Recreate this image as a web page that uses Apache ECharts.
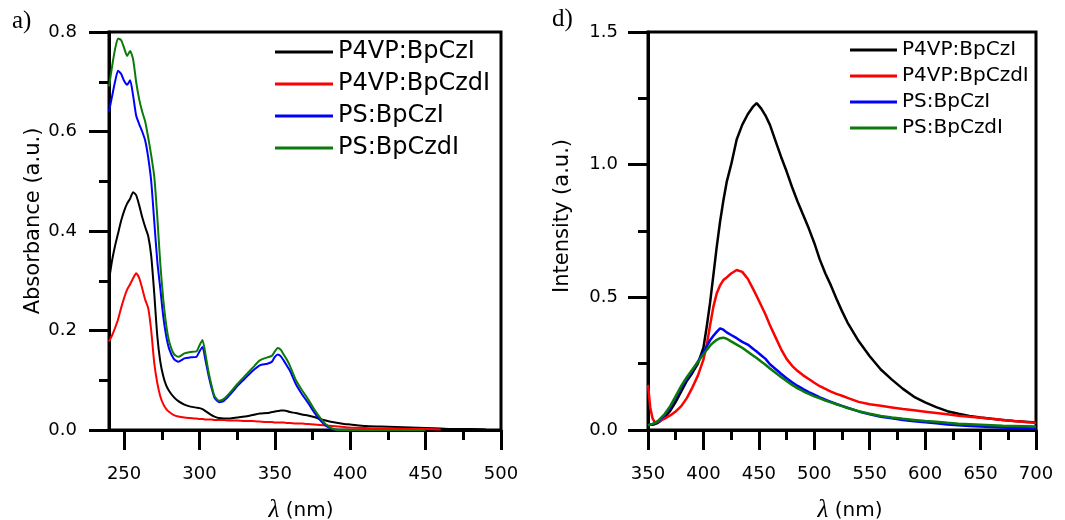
<!DOCTYPE html>
<html>
<head>
<meta charset="utf-8">
<script src="https://cdn.jsdelivr.net/npm/echarts@6/dist/echarts.min.js"></script>
<style>
  html, body { margin: 0; padding: 0; background: #ffffff; }
  #chart { width: 1065px; height: 520px; }
</style>
</head>
<body>
<div id="chart"></div>
<script>
// Sample names and line colours (same order in both panels)
const sampleNames = ['P4VP:BpCzI', 'P4VP:BpCzdI', 'PS:BpCzI', 'PS:BpCzdI'];
const sampleColors = ['#000000', '#ff0000', '#0000ff', '#0a7a0a'];

// ---- Panel a): absorbance spectra ----
const absWl = [240,242,244,246,248,250,252,254,256,258,260,262,264,266,268,270,272,274,276,278,280,
  283,286,290,294,298,300,302,304,306,308,310,313,316,320,325,330,335,340,345,
  348,350,352,354,356,358,360,364,368,372,376,380,384,388,392,396,400,
  410,420,430,440,450,460,470,480,490];

const absP4vpBpCzI = [0.300,0.340,0.370,0.395,0.420,0.440,0.455,0.465,0.478,0.472,0.452,0.428,0.408,0.390,0.350,0.275,0.190,0.138,0.108,0.089,0.078,
  0.066,0.058,0.051,0.047,0.045,0.044,0.042,0.038,0.034,0.030,0.027,0.024,0.023,0.023,0.025,0.027,0.030,0.033,0.034,
  0.036,0.037,0.038,0.039,0.039,0.038,0.036,0.034,0.031,0.029,0.026,0.022,0.019,0.016,0.014,0.012,0.011,
  0.008,0.007,0.006,0.005,0.004,0.003,0.002,0.002,0.001];

const absP4vpBpCzdI = [0.178,0.190,0.205,0.222,0.245,0.265,0.282,0.293,0.305,0.315,0.306,0.285,0.262,0.245,0.200,0.135,0.095,0.068,0.052,0.042,0.036,
  0.030,0.027,0.025,0.024,0.023,0.022,0.022,0.021,0.021,0.021,0.020,0.020,0.020,0.019,0.019,0.018,0.018,0.017,0.016,
  0.016,0.015,0.015,0.015,0.015,0.014,0.014,0.013,0.013,0.012,0.011,0.010,0.009,0.008,0.007,0.006,0.005,
  0.004,0.003,0.003,0.002,0.002,0.001,null,null,null];

const absPsBpCzI = [0.640,0.670,0.700,0.722,0.716,0.702,0.694,0.703,0.672,0.632,0.615,0.600,0.582,0.548,0.500,0.420,0.340,0.285,0.228,0.188,0.162,
  0.143,0.137,0.144,0.146,0.147,0.158,0.167,0.140,0.110,0.085,0.065,0.056,0.058,0.070,0.088,0.103,0.118,0.130,0.133,
  0.137,0.147,0.152,0.148,0.139,0.129,0.119,0.092,0.072,0.055,0.036,0.020,0.008,0.002,0.000,0.000,0.000,
  0.000,0.000,0.000,0.000,0.000,null,null,null,null];

const absPsBpCzdI = [0.690,0.730,0.765,0.787,0.784,0.768,0.752,0.762,0.745,0.700,0.665,0.640,0.620,0.588,0.552,0.510,0.430,0.335,0.262,0.210,0.177,
  0.153,0.147,0.154,0.157,0.158,0.170,0.181,0.152,0.117,0.090,0.068,0.059,0.062,0.074,0.092,0.108,0.124,0.140,0.146,
  0.149,0.158,0.165,0.161,0.151,0.141,0.129,0.100,0.080,0.062,0.042,0.025,0.011,0.003,0.000,0.000,0.000,
  0.000,0.000,0.000,0.000,0.000,null,null,null,null];

const absXTicks = [250, 300, 350, 400, 450, 500];
const absXMinorTicks = [275, 325, 375, 425, 475];

// ---- Panel d): emission spectra ----
const plWl = [350,352,354,356,358,360,365,370,375,380,385,390,395,400,403,406,409,412,415,418,421,
  425,430,435,440,445,448,452,456,460,465,470,475,480,485,490,495,500,505,510,515,520,525,530,
  540,550,560,570,580,590,600,610,620,630,640,650,660,670,680,690,700];

const plP4vpBpCzI = [0.022,0.020,0.020,0.022,0.025,0.030,0.048,0.072,0.106,0.145,0.185,0.215,0.250,0.310,0.390,0.480,0.585,0.690,0.785,0.865,0.935,
  1.000,1.095,1.150,1.190,1.220,1.232,1.212,1.185,1.150,1.090,1.030,0.975,0.915,0.860,0.810,0.760,0.705,0.642,0.590,0.545,0.495,0.448,0.405,
  0.335,0.278,0.228,0.190,0.155,0.125,0.104,0.086,0.071,0.061,0.053,0.047,0.042,0.038,0.034,0.031,0.028];

const plP4vpBpCzdI = [0.170,0.085,0.045,0.030,0.030,0.033,0.043,0.055,0.070,0.090,0.120,0.160,0.205,0.265,0.320,0.395,0.465,0.515,0.545,0.565,0.575,
  0.590,0.603,0.596,0.570,0.530,0.505,0.470,0.435,0.395,0.350,0.305,0.268,0.242,0.222,0.206,0.192,0.178,0.165,0.155,0.145,0.136,0.129,0.121,
  0.106,0.097,0.091,0.085,0.079,0.074,0.069,0.064,0.059,0.054,0.050,0.046,0.042,0.038,0.034,0.030,0.027];

const plPsBpCzI = [0.018,0.020,0.022,0.025,0.030,0.036,0.056,0.085,0.122,0.160,0.193,0.224,0.258,0.292,0.315,0.338,0.355,0.370,0.383,0.378,0.368,
  0.358,0.346,0.332,0.322,0.305,0.296,0.282,0.268,0.248,0.230,0.212,0.195,0.180,0.166,0.154,0.143,0.133,0.123,0.114,0.106,0.098,0.091,0.084,
  0.070,0.059,0.050,0.044,0.038,0.033,0.029,0.025,0.021,0.018,0.015,0.013,0.011,0.009,0.008,0.007,0.006];

const plPsBpCzdI = [0.018,0.021,0.023,0.026,0.031,0.038,0.060,0.090,0.128,0.166,0.199,0.228,0.256,0.285,0.302,0.318,0.330,0.340,0.346,0.348,0.344,
  0.334,0.322,0.310,0.295,0.280,0.271,0.258,0.246,0.232,0.216,0.200,0.185,0.170,0.157,0.146,0.136,0.127,0.119,0.111,0.104,0.097,0.090,0.083,
  0.071,0.061,0.053,0.047,0.042,0.038,0.034,0.031,0.027,0.024,0.022,0.020,0.018,0.016,0.015,0.014,0.013];

// ---- Styling ----
const FONT = 'DejaVu Sans';
const AXIS_LINE = { color: '#000', width: 3 };

function toPairs(xs, ys) {
  const out = [];
  xs.forEach((x, i) => { if (ys[i] != null) out.push([x, ys[i]]); });
  return out;
}

const absSeries = [absP4vpBpCzI, absP4vpBpCzdI, absPsBpCzI, absPsBpCzdI];
const plSeries = [plP4vpBpCzI, plP4vpBpCzdI, plPsBpCzI, plPsBpCzdI];

const series = [];
absSeries.forEach((ys, i) => {
  series.push({
    type: 'line', name: sampleNames[i], xAxisIndex: 0, yAxisIndex: 0,
    data: toPairs(absWl, ys), showSymbol: false, symbol: 'none', smooth: 0.2,
    lineStyle: { color: sampleColors[i], width: 2 }, itemStyle: { color: sampleColors[i] },
    z: 2 + i
  });
});
plSeries.forEach((ys, i) => {
  series.push({
    type: 'line', name: sampleNames[i], xAxisIndex: 1, yAxisIndex: 1,
    data: toPairs(plWl, ys), showSymbol: false, symbol: 'none',
    lineStyle: { color: sampleColors[i], width: 2.5 }, itemStyle: { color: sampleColors[i] },
    z: 2 + i
  });
});

const tickLabel = { fontFamily: FONT, fontSize: 18, color: '#000' };
const xName = '{l|λ} (nm)';
const xNameStyle = (pad) => ({
  fontFamily: FONT, fontSize: 20, color: '#000', padding: pad,
  rich: { l: { fontFamily: 'Liberation Serif', fontStyle: 'italic', fontSize: 25, color: '#000' } }
});

const gridBase = { top: 32, height: 398, outerBoundsMode: 'none', containLabel: false };

// Rotated y-axis titles, placed as free text beside each panel
function yTitle(text, x, y) {
  return {
    type: 'text', x: x, y: y, rotation: Math.PI / 2,
    style: { text: text, font: '21px "DejaVu Sans"', fill: '#000', align: 'center', verticalAlign: 'middle' }
  };
}

const option = {
  animation: false,
  backgroundColor: '#ffffff',
  grid: [
    Object.assign({ left: 109, width: 392, show: true, borderColor: '#000', borderWidth: 3, backgroundColor: 'transparent' }, gridBase),
    Object.assign({ left: 648, width: 388, show: true, borderColor: '#000', borderWidth: 3, backgroundColor: 'transparent' }, gridBase),
    Object.assign({ left: 109, width: 392, show: false }, gridBase)
  ],
  legend: [
    {
      data: sampleNames, orient: 'vertical', left: 275, top: 36, padding: 0,
      itemWidth: 58, itemHeight: 3, itemGap: 0, icon: 'rect', selectedMode: false,
      textStyle: { fontFamily: FONT, fontSize: 24, color: '#000', lineHeight: 32 }
    },
    {
      data: sampleNames, orient: 'vertical', left: 850, top: 37, padding: 0,
      itemWidth: 47, itemHeight: 3, itemGap: 0, icon: 'rect', selectedMode: false,
      textStyle: { fontFamily: FONT, fontSize: 20, color: '#000', lineHeight: 26 }
    }
  ],
  xAxis: [
    {
      gridIndex: 0, type: 'value', min: 240, max: 500,
      axisLine: { show: true, onZero: false, lineStyle: AXIS_LINE },
      axisTick: { show: true, customValues: absXTicks, length: 20, lineStyle: AXIS_LINE },
      axisLabel: Object.assign({ customValues: absXTicks, margin: 35 }, tickLabel),
      splitLine: { show: false },
      name: xName, nameLocation: 'middle', nameGap: 68, nameTextStyle: xNameStyle([0, 8, 0, 0])
    },
    {
      gridIndex: 1, type: 'value', min: 350, max: 700, interval: 50,
      axisLine: { show: true, onZero: false, lineStyle: AXIS_LINE },
      axisTick: { show: true, length: 20, lineStyle: AXIS_LINE },
      minorTick: { show: true, splitNumber: 2, length: 10, lineStyle: AXIS_LINE },
      axisLabel: Object.assign({ margin: 35 }, tickLabel),
      splitLine: { show: false }, minorSplitLine: { show: false },
      name: xName, nameLocation: 'middle', nameGap: 68, nameTextStyle: xNameStyle([0, 0, 0, 16])
    },
    {
      gridIndex: 2, type: 'value', min: 240, max: 500,
      axisLine: { show: false },
      axisTick: { show: true, customValues: absXMinorTicks, length: 10, lineStyle: AXIS_LINE },
      axisLabel: { show: false }, splitLine: { show: false }
    }
  ],
  yAxis: [
    {
      gridIndex: 0, type: 'value', min: 0, max: 0.8, interval: 0.2,
      axisLine: { show: true, onZero: false, lineStyle: AXIS_LINE },
      axisTick: { show: true, length: 20, lineStyle: AXIS_LINE },
      minorTick: { show: true, splitNumber: 2, length: 10, lineStyle: AXIS_LINE },
      axisLabel: Object.assign({ margin: 32, formatter: v => v.toFixed(1) }, tickLabel),
      splitLine: { show: false }, minorSplitLine: { show: false }
    },
    {
      gridIndex: 1, type: 'value', min: 0, max: 1.5, interval: 0.5,
      axisLine: { show: true, onZero: false, lineStyle: AXIS_LINE },
      axisTick: { show: true, length: 20, lineStyle: AXIS_LINE },
      minorTick: { show: true, splitNumber: 2, length: 10, lineStyle: AXIS_LINE },
      axisLabel: Object.assign({ margin: 30, formatter: v => v.toFixed(1) }, tickLabel),
      splitLine: { show: false }, minorSplitLine: { show: false }
    },
    { gridIndex: 2, type: 'value', min: 0, max: 1, show: false }
  ],
  graphic: [
    { type: 'text', left: 12, top: 9, style: { text: 'a)', font: '25px "Liberation Serif"', fill: '#000' } },
    { type: 'text', left: 552, top: 7, style: { text: 'd)', font: '25px "Liberation Serif"', fill: '#000' } },
    yTitle('Absorbance (a.u.)', 34, 221),
    yTitle('Intensity (a.u.)', 563, 216)
  ],
  series: series
};

const chart = echarts.init(document.getElementById('chart'), null, { renderer: 'canvas' });
chart.setOption(option);
</script>
</body>
</html>
